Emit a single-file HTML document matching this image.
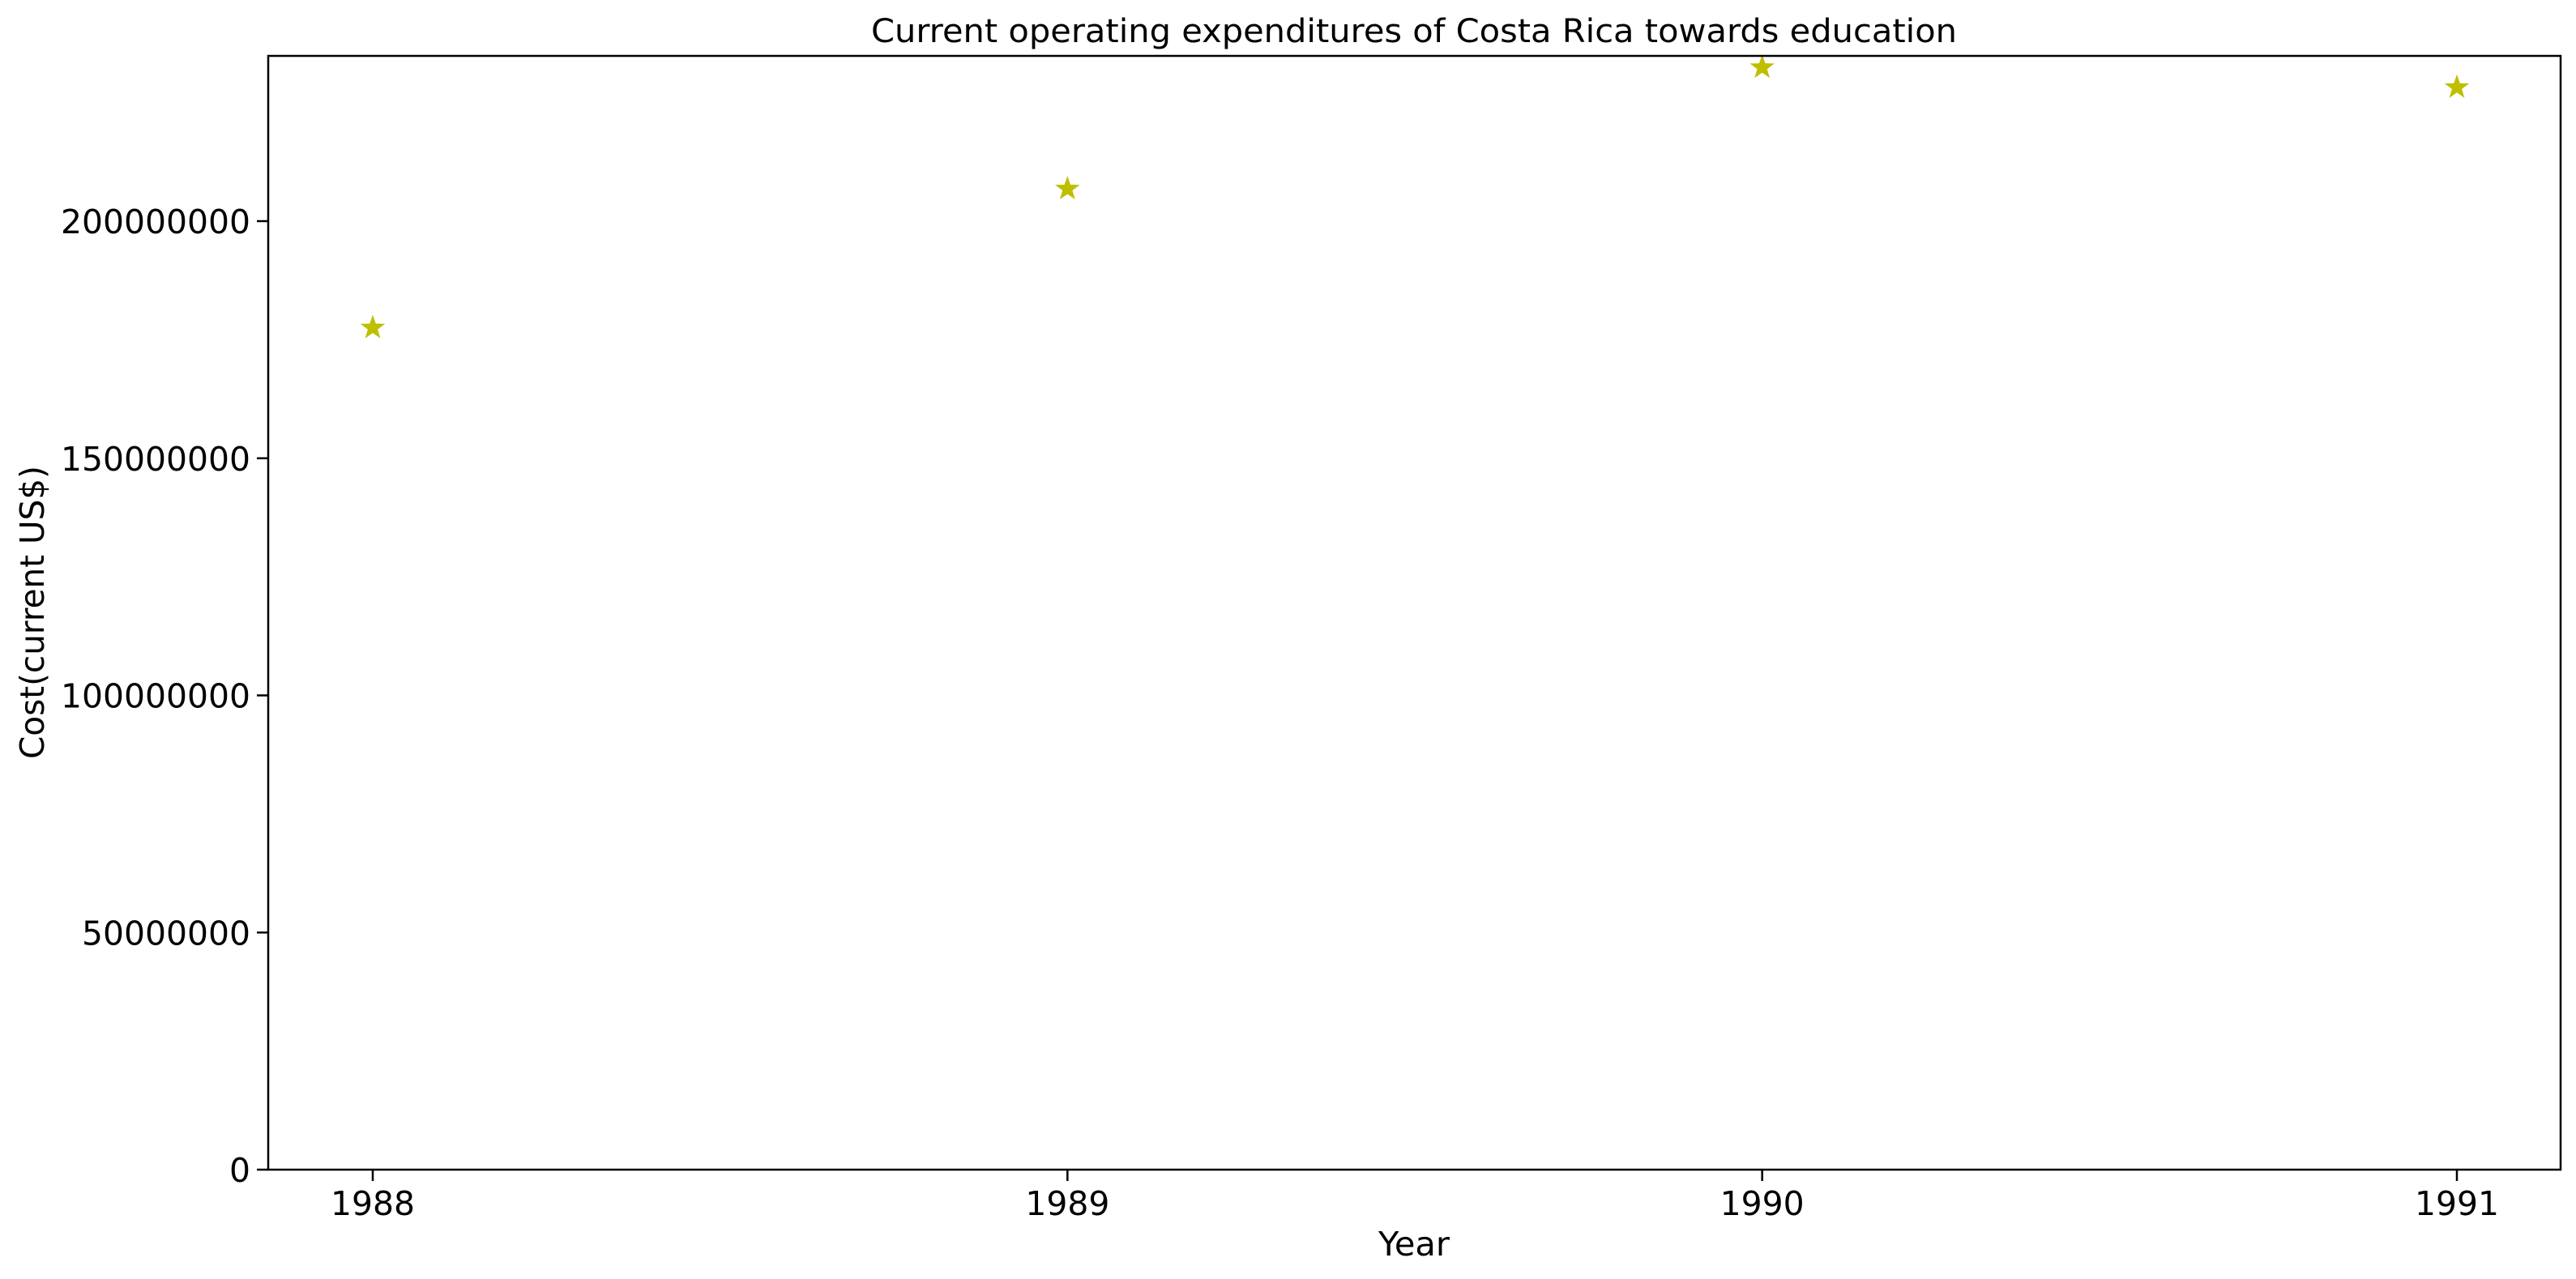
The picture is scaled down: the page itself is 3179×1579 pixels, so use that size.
<!DOCTYPE html>
<html><head><meta charset="utf-8"><style>
html,body{margin:0;padding:0;background:#fff;}
svg{display:block;font-family:"DejaVu Sans","Liberation Sans",sans-serif;}
</style></head><body>
<svg id="chart" width="3179" height="1579" viewBox="0 0 3179 1579" xmlns="http://www.w3.org/2000/svg">
<rect width="3179" height="1579" fill="#fff"/>
<text x="1745" y="52" font-size="40" text-anchor="middle" textLength="1340" lengthAdjust="spacingAndGlyphs">Current operating expenditures of Costa Rica towards education</text>
<g id="marks"></g>
<g id="axes"></g>
<rect x="331" y="69" width="2829" height="1375" fill="none" stroke="#000" stroke-width="2.5"/>
<text x="1745" y="1550" font-size="41" text-anchor="middle" textLength="88" lengthAdjust="spacingAndGlyphs">Year</text>
<text transform="translate(54,756) rotate(-90)" font-size="41" text-anchor="middle" textLength="362" lengthAdjust="spacingAndGlyphs">Cost(current US$)</text>
</svg>
<script>
const years = [1988, 1989, 1990, 1991];
const costs = [177500000, 206800000, 232400000, 228200000];
const yTicks = [0, 50000000, 100000000, 150000000, 200000000];
const yTickLabels = ["0", "50000000", "100000000", "150000000", "200000000"];

const NS = "http://www.w3.org/2000/svg";
function xScale(v){ return 460 + (v - 1988) * (3032 - 460) / 3; }
function yScale(v){ return 1444 - v * (1444 - 273) / 200000000; }

const axes = document.getElementById('axes');
years.forEach(function(yr){
  const x = xScale(yr);
  const t = document.createElementNS(NS,'line');
  t.setAttribute('x1',x);t.setAttribute('x2',x);t.setAttribute('y1',1444);t.setAttribute('y2',1458);
  t.setAttribute('stroke','#000');t.setAttribute('stroke-width','2.5');
  
  
  axes.appendChild(t);
  const l = document.createElementNS(NS,'text');
  l.setAttribute('x',x);l.setAttribute('y',1500);l.setAttribute('font-size','41');l.setAttribute('text-anchor','middle');
  l.setAttribute('textLength','104');l.setAttribute('lengthAdjust','spacingAndGlyphs');
  l.textContent = String(yr);
  
  
  axes.appendChild(l);
});
yTicks.forEach(function(v,i){
  const y = yScale(v);
  const t = document.createElementNS(NS,'line');
  t.setAttribute('x1',317);t.setAttribute('x2',331);t.setAttribute('y1',y);t.setAttribute('y2',y);
  t.setAttribute('stroke','#000');t.setAttribute('stroke-width','2.5');
  
  
  axes.appendChild(t);
  const l = document.createElementNS(NS,'text');
  l.setAttribute('x',309);l.setAttribute('y',y+15);l.setAttribute('font-size','41');l.setAttribute('text-anchor','end');
  l.setAttribute('textLength', String(26 * yTickLabels[i].length));l.setAttribute('lengthAdjust','spacingAndGlyphs');
  l.textContent = yTickLabels[i];
  
  
  axes.appendChild(l);
});

const marks = document.getElementById('marks');
function starPath(cx,cy,R){
  const r = R*0.4; let d='';
  for(let k=0;k<10;k++){
    const a = -Math.PI/2 + k*Math.PI/5;
    const rr = k%2===0 ? R : r;
    d += (k===0?'M':'L') + (cx+rr*Math.cos(a)).toFixed(2) + ' ' + (cy+rr*Math.sin(a)).toFixed(2);
  }
  return d+'Z';
}
years.forEach(function(yr,i){
  const p = document.createElementNS(NS,'path');
  p.setAttribute('d', starPath(xScale(yr), yScale(costs[i]), 16));
  p.setAttribute('fill','#bfbf00');
  
  
  marks.appendChild(p);
});
</script>
</body></html>
